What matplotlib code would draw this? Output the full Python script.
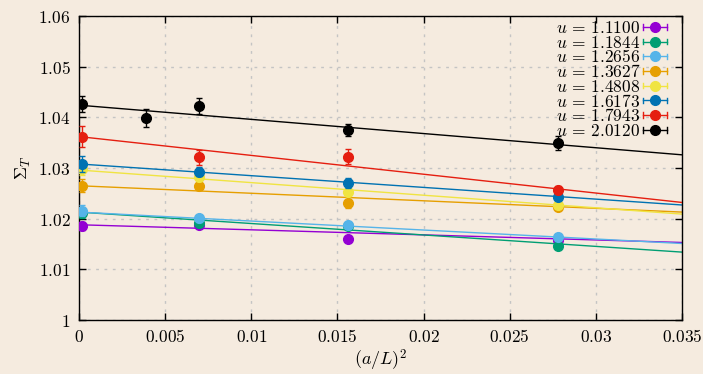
import numpy as np
import matplotlib
matplotlib.use("Agg")
import matplotlib.pyplot as plt
from matplotlib.ticker import FuncFormatter, MultipleLocator
from matplotlib.legend_handler import HandlerBase
from matplotlib.lines import Line2D

plt.rcParams['mathtext.fontset'] = 'cm'

# (a/L)^2 for L = oo (shifted), 12, 8, 6 ; black series also has L = 16
x_std = [0.0002, 0.00694, 0.015625, 0.027778]
x_blk = [0.0002, 0.0039, 0.00694, 0.015625, 0.027778]

u_vals = ['1.1100', '1.1844', '1.2656', '1.3627', '1.4808', '1.6173', '1.7943', '2.0120']
colors = ['#9400D3', '#009E73', '#56B4E9', '#E69F00', '#F0E442', '#0072B2', '#E51E10', '#000000']

sigma_t = [
    [1.0186, 1.0187, 1.0160, 1.0158],
    [1.0212, 1.0191, 1.0185, 1.0147],
    [1.0216, 1.0201, 1.0187, 1.0163],
    [1.0265, 1.0264, 1.0230, 1.0224],
    [1.0298, 1.0282, 1.0253, 1.0227],
    [1.0308, 1.0293, 1.0270, 1.0243],
    [1.0362, 1.0321, 1.0322, 1.0256],
    [1.0426, 1.0399, 1.0423, 1.0375, 1.0350],
]
sigma_err = [
    [0.0008, 0.0005, 0.0005, 0.0005],
    [0.0010, 0.0006, 0.0006, 0.0005],
    [0.0010, 0.0007, 0.0007, 0.0006],
    [0.0013, 0.0008, 0.0009, 0.0006],
    [0.0012, 0.0008, 0.0009, 0.0006],
    [0.0015, 0.0009, 0.0010, 0.0007],
    [0.0020, 0.0015, 0.0015, 0.0008],
    [0.0016, 0.0018, 0.0016, 0.0011, 0.0014],
]
# linear fits: value at (a/L)^2 = 0 and at 0.035
fit_lo = [1.0188, 1.0213, 1.0213, 1.0265, 1.0296, 1.0308, 1.0362, 1.0424]
fit_hi = [1.0153, 1.0134, 1.0151, 1.0213, 1.0209, 1.0227, 1.0232, 1.0326]

bg = '#F5EBDF'


class HandlerKey(HandlerBase):
    # gnuplot-like key sample: |---o---|
    def create_artists(self, legend, orig, xd, yd, w, h, fontsize, trans):
        c = orig.get_color()
        y = h / 2 - yd
        x0, x1 = -xd, -xd + w
        ch = h * 0.22
        arts = [
            Line2D([x0, x1], [y, y], color=c, lw=1),
            Line2D([x0, x0], [y - ch, y + ch], color=c, lw=1),
            Line2D([x1, x1], [y - ch, y + ch], color=c, lw=1),
            Line2D([(x0 + x1) / 2], [y], marker='o', ms=7, color=c, lw=0),
        ]
        for a in arts:
            a.set_transform(trans)
        return arts


fig = plt.figure(figsize=(7.03, 3.74), dpi=100, facecolor=bg)
ax = fig.add_axes([79 / 703, 54 / 374, 603 / 703, 304 / 374])
ax.set_facecolor(bg)

xfit = np.array([0.0, 0.035])
handles = []
for i in range(len(u_vals)):
    xs = x_blk if i == len(u_vals) - 1 else x_std
    ax.plot(xfit, [fit_lo[i], fit_hi[i]], color=colors[i], lw=1, zorder=2 + i * 0.1)
    ax.errorbar(xs, sigma_t[i], yerr=sigma_err[i], fmt='o', ms=7, color=colors[i],
                elinewidth=1, capsize=2.5, capthick=1, zorder=3 + i * 0.1)
    handles.append(Line2D([], [], color=colors[i], marker='o'))

ax.set_xlim(0, 0.035)
ax.set_ylim(1.0, 1.06)
ax.xaxis.set_major_locator(MultipleLocator(0.005))
ax.yaxis.set_major_locator(MultipleLocator(0.01))
fmt = FuncFormatter(lambda v, p: r'$%g$' % round(v, 4))
ax.xaxis.set_major_formatter(fmt)
ax.yaxis.set_major_formatter(fmt)
ax.tick_params(direction='in', top=True, right=True, length=5, width=1,
               labelsize=12.5, pad=6)
ax.grid(True, color='#C4C4C4', linestyle=(0, (2, 4)), lw=1)
ax.set_axisbelow(True)
for s in ax.spines.values():
    s.set_linewidth(1)

ax.set_xlabel(r'$(a/L)^2$', fontsize=13, labelpad=1)
ax.set_ylabel(r'$\Sigma_T$', fontsize=13, labelpad=4)

leg = ax.legend(handles, [r'$u\, =\, %s$' % u for u in u_vals],
                handler_map={Line2D: HandlerKey()},
                loc='upper right', bbox_to_anchor=(0.975, 0.99), frameon=False,
                markerfirst=False, fontsize=12.5, labelspacing=-0.19,
                handlelength=1.38, handletextpad=0.17, borderaxespad=0,
                borderpad=0)
for t in leg.get_texts():
    t.set_horizontalalignment('right')

fig.savefig('out.png', dpi=100, facecolor=bg)
